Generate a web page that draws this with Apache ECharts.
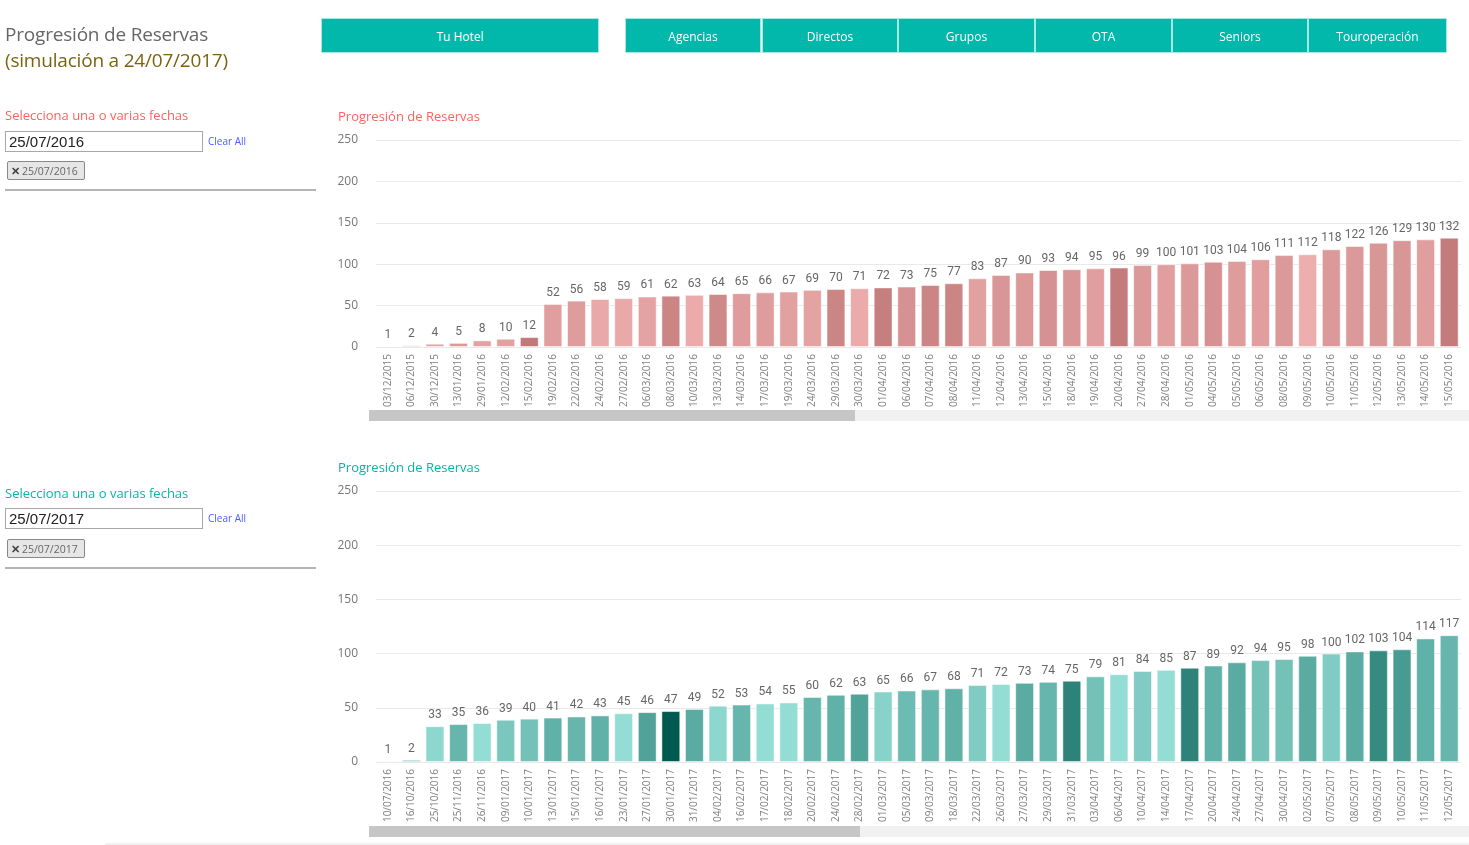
<!DOCTYPE html>
<html>
<head>
<meta charset="utf-8">
<script src="https://cdn.jsdelivr.net/npm/echarts@6/dist/echarts.min.js"></script>
<style>
  body { margin: 0; background: #fff; font-family: "Open Sans", sans-serif; }
  #chart { position: absolute; left: 0; top: 0; width: 1469px; height: 845px; }
  .abs { position: absolute; }
  .btn { position: absolute; top: 18px; height: 35px; background: #01b8aa; border: 1px solid #a8e6e0;
         box-sizing: border-box; color: #fff; font-size: 12px; line-height: 35px; text-align: center; }
  .box { position: absolute; left: 5px; width: 198px; height: 21px; border: 1px solid #a8a8a8;
         box-sizing: border-box; font-family: "Liberation Sans", sans-serif; font-size: 15px; line-height: 19px; padding-left: 3px; color: #222; }
  .clear { position: absolute; left: 208px; font-size: 10px; color: #4a5cff; }
  .chip { position: absolute; left: 7px; width: 78px; height: 19px; border: 1px solid #888; border-radius: 2px;
          background: #e6e6e6; box-sizing: border-box; font-size: 10.5px; line-height: 17px; color: #666; padding-left: 3px; white-space: nowrap; }
  .chip b { color: #444; font-size: 11px; margin-right: 2px; }
  .sep { position: absolute; left: 5px; width: 311px; height: 0; border-top: 2px solid #b4b4b4; }
</style>
</head>
<body>
<div id="chart"></div>

<div class="abs" style="left:5px;top:21px;font-size:19px;color:#666;letter-spacing:-0.2px;">Progresión de Reservas</div>
<div class="abs" style="left:5px;top:47px;font-size:19px;color:#7a6410;letter-spacing:-0.2px;">(simulación a 24/07/2017)</div>

<div class="abs" style="left:5px;top:106px;font-size:13px;color:#fd625e;">Selecciona una o varias fechas</div>
<div class="box" style="top:131px;">25/07/2016</div>
<div class="clear" style="top:134px;">Clear All</div>
<div class="chip" style="top:161px;"><b>✕</b>25/07/2016</div>
<div class="sep" style="top:189px;"></div>

<div class="abs" style="left:5px;top:484px;font-size:13px;color:#01b8aa;">Selecciona una o varias fechas</div>
<div class="box" style="top:508px;">25/07/2017</div>
<div class="clear" style="top:511px;">Clear All</div>
<div class="chip" style="top:539px;"><b>✕</b>25/07/2017</div>
<div class="sep" style="top:567px;"></div>

<div class="btn" style="left:321px;width:278px;">Tu Hotel</div>
<div class="btn" style="left:625px;width:136px;">Agencias</div>
<div class="btn" style="left:762px;width:136px;">Directos</div>
<div class="btn" style="left:898px;width:137px;">Grupos</div>
<div class="btn" style="left:1035px;width:137px;">OTA</div>
<div class="btn" style="left:1172px;width:136px;">Seniors</div>
<div class="btn" style="left:1308px;width:139px;">Touroperación</div>

<script>
// reservas 2016 (hasta 25/07/2016)
var fechas2016 = ['03/12/2015', '06/12/2015', '30/12/2015', '13/01/2016', '29/01/2016', '12/02/2016', '15/02/2016',
    '19/02/2016', '22/02/2016', '24/02/2016', '27/02/2016', '06/03/2016', '08/03/2016', '10/03/2016', '13/03/2016',
    '14/03/2016', '17/03/2016', '19/03/2016', '24/03/2016', '29/03/2016', '30/03/2016', '01/04/2016', '06/04/2016',
    '07/04/2016', '08/04/2016', '11/04/2016', '12/04/2016', '13/04/2016', '15/04/2016', '18/04/2016', '19/04/2016',
    '20/04/2016', '27/04/2016', '28/04/2016', '01/05/2016', '04/05/2016', '05/05/2016', '06/05/2016', '08/05/2016',
    '09/05/2016', '10/05/2016', '11/05/2016', '12/05/2016', '13/05/2016', '14/05/2016', '15/05/2016'];
var reservas2016 = [1, 2, 4, 5, 8, 10, 12, 52, 56, 58, 59, 61, 62, 63, 64, 65, 66, 67, 69, 70, 71, 72, 73, 75, 77,
    83, 87, 90, 93, 94, 95, 96, 99, 100, 101, 103, 104, 106, 111, 112, 118, 122, 126, 129, 130, 132];
// intensidad del color (saturación de Power BI), estimada
var tono2016 = [0.4, 0.4, 0.3, 0.5, 0.35, 0.35, 1.0, 0.4, 0.45, 0.2, 0.2, 0.3, 0.8, 0.15, 0.75, 0.45, 0.45, 0.35,
    0.3, 0.8, 0.15, 0.9, 0.6, 0.8, 0.8, 0.35, 0.55, 0.5, 0.6, 0.55, 0.4, 0.95, 0.5, 0.4, 0.5, 0.6, 0.45, 0.4, 0.5,
    0.1, 0.5, 0.5, 0.55, 0.55, 0.4, 0.95];

// reservas 2017 (hasta 25/07/2017)
var fechas2017 = ['10/07/2016', '16/10/2016', '25/10/2016', '25/11/2016', '26/11/2016', '09/01/2017', '10/01/2017',
    '13/01/2017', '15/01/2017', '16/01/2017', '23/01/2017', '27/01/2017', '30/01/2017', '31/01/2017', '04/02/2017',
    '16/02/2017', '17/02/2017', '18/02/2017', '20/02/2017', '24/02/2017', '28/02/2017', '01/03/2017', '05/03/2017',
    '09/03/2017', '18/03/2017', '22/03/2017', '26/03/2017', '27/03/2017', '29/03/2017', '31/03/2017', '03/04/2017',
    '06/04/2017', '10/04/2017', '14/04/2017', '17/04/2017', '20/04/2017', '24/04/2017', '27/04/2017', '30/04/2017',
    '02/05/2017', '07/05/2017', '08/05/2017', '09/05/2017', '10/05/2017', '11/05/2017', '12/05/2017'];
var reservas2017 = [1, 2, 33, 35, 36, 39, 40, 41, 42, 43, 45, 46, 47, 49, 52, 53, 54, 55, 60, 62, 63, 65, 66, 67,
    68, 71, 72, 73, 74, 75, 79, 81, 84, 85, 87, 89, 92, 94, 95, 98, 100, 102, 103, 104, 114, 117];
var tono2017 = [0.3, 0.4, 0.1, 0.4, 0.05, 0.25, 0.3, 0.45, 0.4, 0.45, 0.05, 0.55, 1.0, 0.5, 0.1, 0.4, 0.05, 0.05,
    0.4, 0.45, 0.55, 0.15, 0.35, 0.4, 0.45, 0.2, 0.05, 0.5, 0.4, 0.75, 0.3, 0.05, 0.2, 0.05, 0.75, 0.45, 0.5, 0.3,
    0.3, 0.5, 0.2, 0.5, 0.7, 0.6, 0.45, 0.4];

var yTicks = [0, 50, 100, 150, 200, 250];

function rows(fechas, vals, tonos) {
    return vals.map(function (v, i) { return [fechas[i], v, tonos[i]]; });
}

var chart = echarts.init(document.getElementById('chart'));

function xAxisFor(idx, fechas) {
    return {
        type: 'category', gridIndex: idx, data: fechas,
        axisLine: { show: false }, axisTick: { show: false },
        axisLabel: { rotate: 90, fontSize: 10, color: '#808080', margin: 7, fontFamily: 'Open Sans' }
    };
}
function yAxisFor(idx) {
    return {
        type: 'value', gridIndex: idx, min: yTicks[0], max: yTicks[yTicks.length - 1], interval: 50,
        axisLine: { show: false }, axisTick: { show: false },
        axisLabel: { color: '#777', fontSize: 12, margin: 18, fontFamily: 'Open Sans' },
        splitLine: { lineStyle: { color: '#e9e9e9' } }
    };
}
function serieFor(idx, data) {
    return {
        type: 'bar', xAxisIndex: idx, yAxisIndex: idx, data: data,
        encode: { x: 0, y: 1 },
        barCategoryGap: '20%',
        itemStyle: { borderColor: 'rgba(255,255,255,0.5)', borderWidth: 1 },
        label: {
            show: true, position: 'top', distance: 5, color: '#666', fontSize: 12,
            fontFamily: 'Roboto', formatter: function (p) { return p.value[1]; }
        }
    };
}

var option = {
    animation: false,
    title: [
        { text: 'Progresión de Reservas', left: 333, top: 106,
          textStyle: { color: '#fd625e', fontSize: 13, fontWeight: 'normal', fontFamily: 'Open Sans' } },
        { text: 'Progresión de Reservas', left: 333, top: 457,
          textStyle: { color: '#01b8aa', fontSize: 13, fontWeight: 'normal', fontFamily: 'Open Sans' } }
    ],
    grid: [
        { left: 376, width: 1085, top: 140, height: 207 },
        { left: 376, width: 1085, top: 491, height: 271 }
    ],
    xAxis: [xAxisFor(0, fechas2016), xAxisFor(1, fechas2017)],
    yAxis: [yAxisFor(0), yAxisFor(1)],
    visualMap: [
        { show: false, seriesIndex: 0, dimension: 2, min: 0, max: 1,
          inRange: { color: ['#f1b3b3', '#dc9999', '#c07878'] } },
        { show: false, seriesIndex: 1, dimension: 2, min: 0, max: 1,
          inRange: { color: ['#9ae2da', '#5aaba2', '#005a50'] } }
    ],
    series: [
        serieFor(0, rows(fechas2016, reservas2016, tono2016)),
        serieFor(1, rows(fechas2017, reservas2017, tono2017))
    ],
    graphic: [
        { type: 'rect', shape: { x: 369, y: 410, width: 1100, height: 11 }, style: { fill: '#f1f1f1' } },
        { type: 'rect', shape: { x: 369, y: 410, width: 486, height: 11 }, style: { fill: '#c6c6c6' } },
        { type: 'rect', shape: { x: 369, y: 826, width: 1100, height: 11 }, style: { fill: '#f1f1f1' } },
        { type: 'rect', shape: { x: 369, y: 826, width: 491, height: 11 }, style: { fill: '#c6c6c6' } },
        { type: 'line', shape: { x1: 105, y1: 844, x2: 1469, y2: 844 }, style: { stroke: '#e2e2e2', lineWidth: 1 } }
    ]
};

chart.setOption(option);
</script>
</body>
</html>
